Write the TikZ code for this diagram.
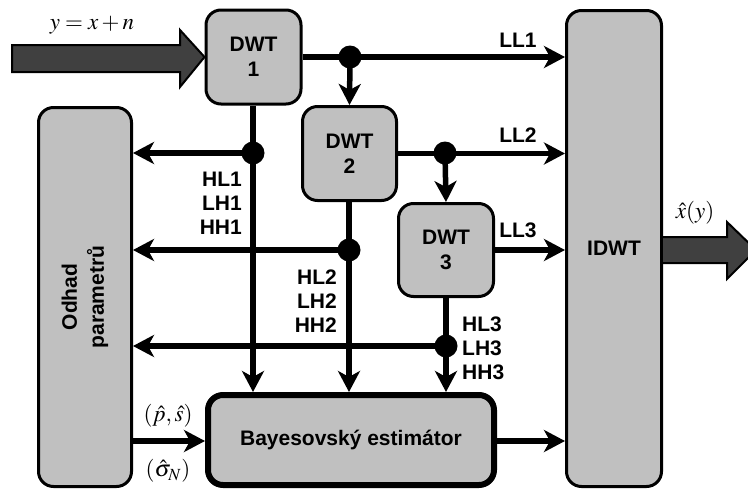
\documentclass[tikz,border=0pt]{standalone}
\usepackage{mathptmx}
\usepackage{fontspec}
\setmainfont{Liberation Sans}
\usetikzlibrary{arrows.meta}
\definecolor{boxgray}{HTML}{C0C0C0}
\definecolor{bigarrow}{HTML}{404040}
\begin{document}
\begin{tikzpicture}[x=1pt,y=-1pt,
  font=\fontsize{21}{25}\selectfont\bfseries,
  block/.style={draw=black,line width=3pt,fill=boxgray,rounded corners=15pt,
    align=center,inner sep=0pt},
  wire/.style={line width=5.5pt},
  flow/.style={wire,-{Stealth[length=21pt,width=22pt,inset=6pt]}},
  junction/.style={circle,fill=black,minimum size=23pt,inner sep=0pt},
  band/.style={align=right,inner sep=1pt,font=\fontsize{21}{24}\selectfont\bfseries},
  mathlbl/.style={inner sep=0.5pt,font=\fontsize{23}{27}\selectfont},
  fat/.style={draw=black,line width=2pt,fill=bigarrow,line join=miter}]
\useasboundingbox (0,0) rectangle (748,490);

% processing blocks
\node[block,minimum width=95pt,minimum height=94pt] (d1) at (253.5,57) {DWT\\1};
\node[block,minimum width=94pt,minimum height=94pt] (d2) at (349.5,153.5) {DWT\\2};
\node[block,minimum width=95pt,minimum height=93pt] (d3) at (446,250) {DWT\\3};
\node[block,minimum width=95pt,minimum height=476pt] (idwt) at (614,248.5) {IDWT};
\node[block,minimum width=93pt,minimum height=379pt] (odhad) at (85,297) {};
\node[rotate=90,align=center,font=\fontsize{21}{27}\selectfont\bfseries] (odhadtxt) at (odhad.center) {Odhad\\parametrů};
\node[block,line width=6pt,minimum width=286pt,minimum height=90pt] (bayes) at (351,440) {Bayesovský estimátor};

% branch points
\coordinate (j1) at (350,57);
\coordinate (j2) at (445,153);
\coordinate (j3) at (253,153);
\coordinate (j4) at (349,250);
\coordinate (j5) at (446,346);

% approximation bands to the inverse transform
\draw[flow] (d1.east) -- (d1.east -| idwt.west);
\draw[flow] (j1) -- (d2.north);
\draw[flow] (d2.east) -- (d2.east -| idwt.west);
\draw[flow] (j2) -- (d3.north);
\draw[flow] (d3.east) -- (d3.east -| idwt.west);

% detail bands to the estimator
\draw[flow] (d1.south -| j3) -- (j3 |- bayes.north);
\draw[flow] (d2.south -| j4) -- (j4 |- bayes.north);
\draw[flow] (d3.south -| j5) -- (j5 |- bayes.north);

% detail bands to the parameter estimation
\draw[flow] (j3) -- (j3 -| odhad.east);
\draw[flow] (j4) -- (j4 -| odhad.east);
\draw[flow] (j5) -- (j5 -| odhad.east);

% parameters and estimate
\coordinate (pm) at (0,441);
\draw[flow] (pm -| odhad.east) -- (pm -| bayes.west);
\draw[flow] (pm -| bayes.east) -- (pm -| idwt.west);

\foreach \j in {j1,j2,j3,j4,j5} \node[junction] at (\j) {};

% band labels
\node (ll1) at (518,40) {LL1};
\node (ll2) at (518,135) {LL2};
\node (ll3) at (518,230) {LL3};
\node[band,anchor=east] (hb1) at (243,203) {HL1\\LH1\\HH1};
\node[band,anchor=east] (hb2) at (338,301) {HL2\\LH2\\HH2};
\node[band,anchor=west,align=left] (hb3) at (461,348) {HL3\\LH3\\HH3};

% input and output signals
\draw[fat] (12,45) -- (180,45) -- (180,30) -- (d1.west) -- (180,87) -- (180,72) -- (12,72) -- cycle;
\draw[fat] (idwt.east |- 0,237) -- (727,237) -- (727,222) -- (756,250) -- (727,279) -- (727,263) -- (idwt.east |- 0,263);

\node[mathlbl] (yin) at (92,25) {$y = x + n$};
\node[mathlbl] (xout) at (695,213) {$\hat{x}(y)$};
\node[mathlbl] (ps) at (168,416) {$(\hat{p},\hat{s})$};
\node[mathlbl] (sn) at (168,471) {$(\hat{\sigma}_N)$};
\end{tikzpicture}
\end{document}
